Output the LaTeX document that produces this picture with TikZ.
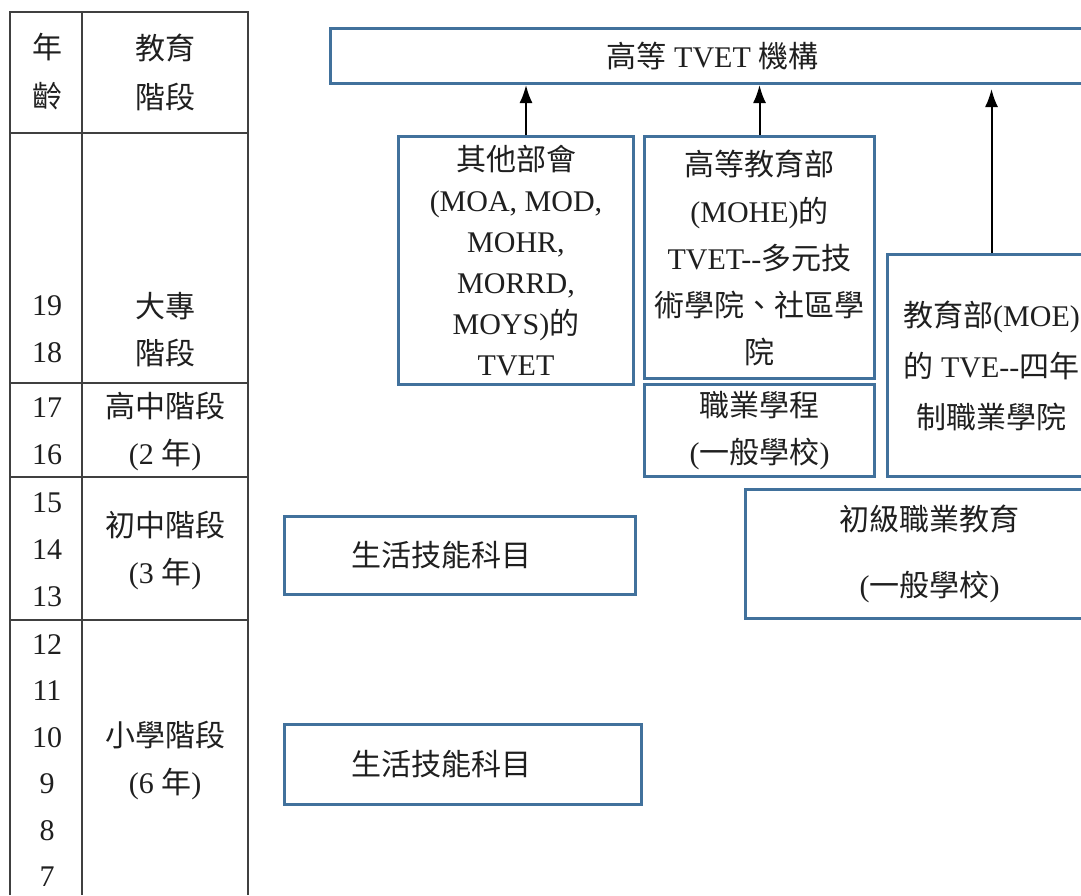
\documentclass[tikz,border=0pt]{standalone}
\usepackage{fontspec}
\usepackage{xcolor}
\setmainfont{Liberation Serif}
\newfontfamily\cjk{Noto Sans CJK TC}
\usetikzlibrary{arrows.meta,positioning}
\definecolor{boxblue}{RGB}{65,113,156}
\definecolor{rulegray}{RGB}{64,64,64}
\newcommand\zh[1]{{\cjk #1}}
\newcommand\dd{-\kern0pt-}
\tikzstyle{every node}=[font=\fontsize{30}{47}\selectfont,text=black!88,inner sep=0,align=center]
\tikzstyle{box}=[draw=boxblue,line width=3,anchor=north west]
\tikzstyle{rule}=[draw=rulegray,line width=1.6]
\tikzstyle{up}=[-{Latex[length=18,width=13]},line width=2]

\begin{document}
\begin{tikzpicture}[x=1pt,y=-1pt]
    \clip (0,0) rectangle (1081,895);
    \fill[white] (0,0) rectangle (1081,895);
    % age / stage table
    \draw[rule] (10,895) -- (10,12) -- (248,12) -- (248,895);
    \draw[rule] (82,12) -- (82,895);
    \foreach \y in {133,383,477,620} \draw[rule] (10,\y) -- (248,\y);
    \node[font=\fontsize{30}{49}\selectfont] (hdage) at (47,72) {\zh{年}\\\zh{齡}};
    \node[font=\fontsize{30}{49}\selectfont] (hdstage) at (165,72) {\zh{教育}\\\zh{階段}};
    \node (college) at (165,330) {\zh{大專}\\\zh{階段}};
    \node (senior) at (165,431) {\zh{高中階段}\\(2 \zh{年})};
    \node (junior) at (165,550) {\zh{初中階段}\\(3 \zh{年})};
    \node (primary) at (165,760) {\zh{小學階段}\\(6 \zh{年})};
    \foreach \a/\y in {19/306,18/353,17/408,16/455,15/503,14/550,13/597,12/645,11/691,10/738,9/784,8/831,7/877}
      \node (age\a) at (47,\y) {\a};
    % institutions
    \node[box,minimum width=764,minimum height=55] (tvet) at (329,27) {\zh{高等} TVET \zh{機構}};
    \node[box,minimum width=235,minimum height=248,font=\fontsize{30}{41}\selectfont] (other) at (397,135)
      {\zh{其他部會}\\(MOA, MOD,\\MOHR,\\MORRD,\\MOYS)\zh{的}\\TVET};
    \node[box,minimum width=230,minimum height=242] (mohe) at (643,135)
      {\zh{高等教育部}\\(MOHE)\zh{的}\\TVET\dd\zh{多元技}\\\zh{術學院、社區學}\\\zh{院}};
    \node[box,minimum width=230,minimum height=92] (voc) at (643,383) {\zh{職業學程}\\(\zh{一般學校})};
    \node[box,minimum width=208,minimum height=222,font=\fontsize{30}{51}\selectfont] (moe) at (886,253)
      {\zh{教育部}(MOE)\\\zh{的} TVE\dd\zh{四年}\\\zh{制職業學院}};
    \node[box,minimum width=368,minimum height=129,font=\fontsize{30}{66}\selectfont] (basic) at (744,488)
      {\zh{初級職業教育}\\(\zh{一般學校})};
    \node[box,minimum width=351,minimum height=78] (life1) at (283,515) {\zh{生活技能科目}\hspace*{37pt}};
    \node[box,minimum width=357,minimum height=80] (life2) at (283,723) {\zh{生活技能科目}\hspace*{43pt}};
    % arrows
    \draw[up] ([xshift=10]other.north) -- ([xshift=10]other.north |- tvet.south);
    \draw[up] (mohe.north) -- (mohe.north |- tvet.south);
    \draw[up,shorten >=4] (moe.north) -- (moe.north |- tvet.south);
\end{tikzpicture}
\end{document}
